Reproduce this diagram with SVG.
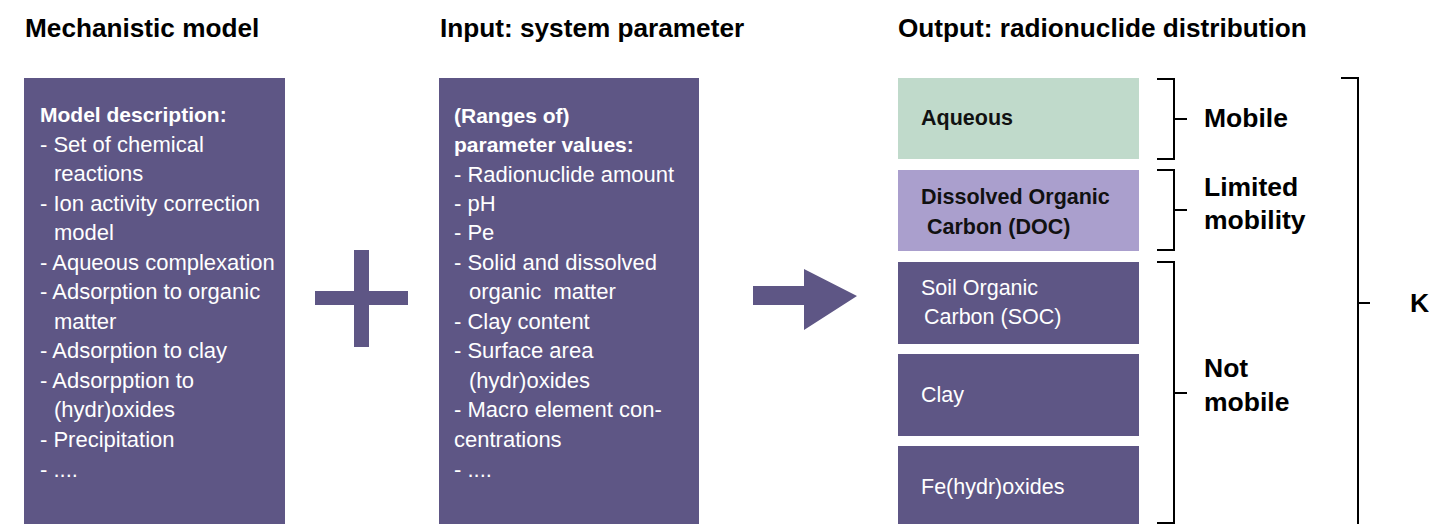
<svg xmlns="http://www.w3.org/2000/svg" width="1429" height="524" viewBox="0 0 1429 524">
<style>
.title{font-family:"Liberation Sans",Arial,sans-serif;font-weight:bold;font-size:26.2px;fill:#000}
.body{font-family:"Liberation Sans",Arial,sans-serif;font-size:22px;fill:#fff}
.body2{font-family:"Liberation Sans",Arial,sans-serif;font-size:21.5px;fill:#fff}
.bodyb{font-family:"Liberation Sans",Arial,sans-serif;font-size:21px;font-weight:bold;fill:#fff}
.boxb{font-family:"Liberation Sans",Arial,sans-serif;font-size:21.5px;font-weight:bold;fill:#111}
.lab{font-family:"Liberation Sans",Arial,sans-serif;font-size:26.5px;font-weight:bold;fill:#000}
.dark{fill:#5e5685}
.br{fill:none;stroke:#000;stroke-width:2}
</style>
<rect width="1429" height="524" fill="#fff"/>
<g id="titles">
<text class="title" x="25" y="37">Mechanistic model</text>
<text class="title" x="440" y="37">Input: system parameter</text>
<text class="title" x="898" y="37">Output: radionuclide distribution</text>
</g>
<g id="node-model">
<rect class="dark" x="24" y="78" width="261" height="470"/>
<text class="bodyb" x="40" y="122">Model description:</text>
<text class="body" x="40" y="152">- Set of chemical</text>
<text class="body" x="54" y="181">reactions</text>
<text class="body" x="40" y="211">- Ion activity correction</text>
<text class="body" x="54" y="240">model</text>
<text class="body" x="40" y="270">- Aqueous complexation</text>
<text class="body" x="40" y="299">- Adsorption to organic</text>
<text class="body" x="54" y="329">matter</text>
<text class="body" x="40" y="358">- Adsorption to clay</text>
<text class="body" x="40" y="388">- Adsorpption to</text>
<text class="body" x="54" y="417">(hydr)oxides</text>
<text class="body" x="40" y="447">- Precipitation</text>
<text class="body" x="40" y="477">- ....</text>
</g>
<g id="plus">
<rect class="dark" x="315" y="291" width="93" height="14"/>
<rect class="dark" x="354" y="250" width="15" height="97"/>
</g>
<g id="node-input">
<rect class="dark" x="439" y="78" width="260" height="470"/>
<text class="bodyb" x="454" y="123">(Ranges of)</text>
<text class="bodyb" x="454" y="152">parameter values:</text>
<text class="body" x="454" y="182">- Radionuclide amount</text>
<text class="body" x="454" y="211">- pH</text>
<text class="body" x="454" y="240">- Pe</text>
<text class="body" x="454" y="270">- Solid and dissolved</text>
<text class="body" x="469" y="299" xml:space="preserve">organic  matter</text>
<text class="body" x="454" y="329">- Clay content</text>
<text class="body" x="454" y="358">- Surface area</text>
<text class="body" x="469" y="388">(hydr)oxides</text>
<text class="body" x="454" y="417">- Macro element con-</text>
<text class="body" x="454" y="447">centrations</text>
<text class="body" x="454" y="477">- ....</text>
</g>
<g id="node-aqueous">
<rect x="898" y="78" width="241" height="81" fill="#c0dacb"/>
<text class="boxb" x="921" y="125">Aqueous</text>
</g>
<g id="node-doc">
<rect x="898" y="170" width="241" height="81" fill="#aa9fcd"/>
<text class="boxb" x="921" y="204">Dissolved Organic</text>
<text class="boxb" x="927" y="234">Carbon (DOC)</text>
</g>
<g id="node-soc">
<rect class="dark" x="898" y="262" width="241" height="82"/>
<text class="body2" x="921" y="295">Soil Organic</text>
<text class="body2" x="924" y="324">Carbon (SOC)</text>
</g>
<g id="node-clay">
<rect class="dark" x="898" y="354" width="241" height="82"/>
<text class="body2" x="921" y="402">Clay</text>
</g>
<g id="node-fe">
<rect class="dark" x="898" y="446" width="241" height="90"/>
<text class="body2" x="921" y="494">Fe(hydr)oxides</text>
</g>
<g id="connectors">
<path class="dark" d="M753,286 H804 V269 L857,296 L804,330 V305 H753 Z"/>
<path class="br" d="M1157,79 H1174 V159 H1157 M1174,119 H1187"/>
<path class="br" d="M1157,170 H1174 V250 H1157 M1174,210 H1187"/>
<path class="br" d="M1157,262 H1174 V523 H1157 M1174,393 H1187"/>
<path class="br" d="M1341,78 H1358 V530 M1358,303 H1370"/>
</g>
<g id="labels">
<text class="lab" x="1204" y="127">Mobile</text>
<text class="lab" x="1204" y="196">Limited</text>
<text class="lab" x="1204" y="229">mobility</text>
<text class="lab" x="1204" y="377">Not</text>
<text class="lab" x="1204" y="411">mobile</text>
<text class="lab" x="1410" y="312" font-size="25.5">K<tspan font-size="15" dy="8">d</tspan></text>
</g>
</svg>
